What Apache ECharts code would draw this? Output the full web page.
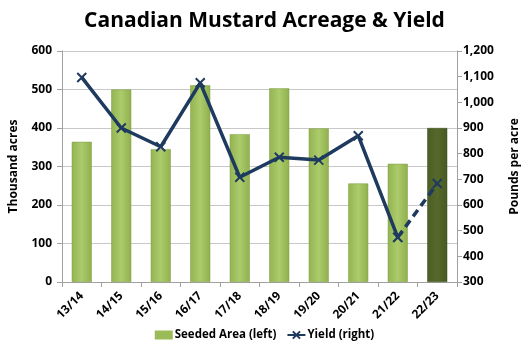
<!DOCTYPE html>
<html><head><meta charset="utf-8">
<script src="https://cdn.jsdelivr.net/npm/echarts@6/dist/echarts.min.js"></script>
<style>html,body{margin:0;padding:0;background:#fff}#c{width:529px;height:360px}</style>
</head><body><div id="c"></div>
<script>
const categories = ['13/14','14/15','15/16','16/17','17/18','18/19','19/20','20/21','21/22','22/23'];
const seededArea = [364, 500, 345, 511, 384, 503, 399, 256, 307, 400];
const yieldVals = [1097, 900, 827, 1076, 708, 786, 775, 870, 474, 684];
const leftTicks = [0, 600, 100];
const rightTicks = [300, 1200, 100];

const F = '"Open Sans", "Liberation Sans", sans-serif';
const lightGrad = new echarts.graphic.LinearGradient(1,0,0,0,[
  {offset:0,color:'#8fb04c'},{offset:0.5,color:'#accb6c'},{offset:1,color:'#93b451'}]);
const darkGrad = new echarts.graphic.LinearGradient(1,0,0,0,[
  {offset:0,color:'#465a22'},{offset:0.5,color:'#56692b'},{offset:1,color:'#4a5e24'}]);

const lastIdx = categories.length - 1;
const barData = seededArea.map((v,i)=>({value:v,itemStyle:{color: i===lastIdx?darkGrad:lightGrad, borderColor: i===lastIdx?'#3e4f1e':'#7f9d42', borderWidth:0.5}}));
const solid = yieldVals.map((v,i)=> i<lastIdx ? v : null);
const dashed = yieldVals.map((v,i)=> i>=lastIdx-1 ? v : null);
const X = 'path://M0,0L10,10M10,0L0,10';

const chart = echarts.init(document.getElementById('c'));
chart.setOption({
  animation:false,
  title:{text:'Canadian Mustard Acreage & Yield',left:'center',top:6,
    textStyle:{fontFamily:F,fontWeight:'bold',fontSize:21,color:'#000'}},
  grid:{left:61,right:58,top:51,bottom:78},
  legend:{bottom:14,left:'center',itemGap:10,itemWidth:18,itemHeight:9,
    textStyle:{fontFamily:F,fontWeight:'bold',fontSize:11.5,color:'#000',padding:[0,0,0,-3]},
    data:[{name:'Seeded Area (left)',icon:'rect'},{name:'Yield (right)'}]},
  xAxis:{type:'category',data:categories,
    axisLine:{lineStyle:{color:'#a0a0a0'}},axisTick:{show:true,lineStyle:{color:'#a0a0a0'}},
    axisLabel:{rotate:45,fontFamily:F,fontWeight:'bold',fontSize:12,color:'#000',margin:12}},
  yAxis:[
    {type:'value',min:leftTicks[0],max:leftTicks[1],interval:leftTicks[2],name:'Thousand acres',
     nameLocation:'middle',nameGap:42,nameTextStyle:{fontFamily:F,fontWeight:'bold',fontSize:12,color:'#000'},
     axisLine:{show:true,lineStyle:{color:'#a0a0a0'}},axisTick:{show:true,lineStyle:{color:'#a0a0a0'}},
     splitLine:{lineStyle:{color:'#c8c8c8'}},
     axisLabel:{fontFamily:F,fontWeight:'bold',fontSize:12,color:'#000',margin:10}},
    {type:'value',min:rightTicks[0],max:rightTicks[1],interval:rightTicks[2],name:'Pounds per acre',
     nameLocation:'middle',nameGap:52,nameRotate:90,nameTextStyle:{fontFamily:F,fontWeight:'bold',fontSize:12,color:'#000'},
     axisLine:{show:true,lineStyle:{color:'#a0a0a0'}},axisTick:{show:true,lineStyle:{color:'#a0a0a0'}},
     splitLine:{show:false},
     axisLabel:{fontFamily:F,fontWeight:'bold',fontSize:12,color:'#000',margin:6,
       formatter:v=>v.toLocaleString('en-US')}}
  ],
  series:[
    {name:'Seeded Area (left)',type:'bar',data:barData,barWidth:20,itemStyle:{color:'#9bbb59'}},
    {name:'Yield (right)',type:'line',yAxisIndex:1,data:solid,symbol:X,symbolSize:9,
     lineStyle:{color:'#1f3a5f',width:3.5},itemStyle:{color:'#1f3a5f',borderColor:'#1f3a5f',borderWidth:2},z:5},
    {name:'Yield dashed',type:'line',yAxisIndex:1,data:dashed,symbol:X,symbolSize:9,
     lineStyle:{color:'#1f3a5f',width:3.5,type:[8,5]},itemStyle:{color:'#1f3a5f',borderColor:'#1f3a5f',borderWidth:2},z:5}
  ]
});
</script></body></html>
